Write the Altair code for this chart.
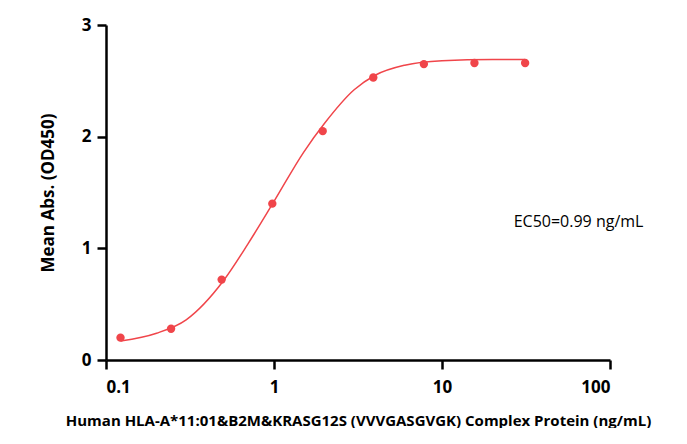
import altair as alt
import pandas as pd

# measured points
conc = [0.122, 0.244, 0.488, 0.977, 1.95, 3.9, 7.8, 15.6, 31.25]
absorb = [0.20, 0.28, 0.72, 1.40, 2.05, 2.53, 2.65, 2.66, 2.66]

# fitted curve
curve_x = [0.122, 0.2, 0.3, 0.5, 0.7, 1.0, 1.5, 2.0, 3.0, 4.0, 6.0, 10.0, 20.0, 31.25]
curve_y = [0.17, 0.24, 0.36, 0.71, 1.04, 1.42, 1.86, 2.12, 2.42, 2.55, 2.64, 2.68, 2.69, 2.69]

pts = pd.DataFrame({"x": conc, "y": absorb})
fit = pd.DataFrame({"x": curve_x, "y": curve_y})
note = pd.DataFrame({"x": [65], "y": [1.24], "t": ["EC50=0.99 ng/mL"]})

red = "#f0454a"
xs = alt.Scale(type="log", domain=[0.1, 100])
ys = alt.Scale(domain=[0, 3])

xax = alt.Axis(values=[0.1, 1, 10, 100], format="~g", grid=False, domainWidth=2.5,
               tickWidth=2.5, tickSize=9, labelFontSize=17, labelFontWeight="bold",
               labelPadding=10, titleFontSize=15, titleFontWeight="bold", titlePadding=18,
               domainColor="black", tickColor="black", labelColor="black", titleColor="black")
yax = alt.Axis(values=[0, 1, 2, 3], format="d", grid=False, domainWidth=2.5, tickWidth=2.5,
               tickSize=9, labelFontSize=17, labelFontWeight="bold", labelPadding=6,
               titleFontSize=17, titleFontWeight="bold", titlePadding=24,
               domainColor="black", tickColor="black", labelColor="black", titleColor="black")

xtitle = "Human HLA-A*11:01&B2M&KRASG12S (VVVGASGVGK) Complex Protein (ng/mL)"

line = alt.Chart(fit).mark_line(color=red, strokeWidth=1.5, interpolate="monotone").encode(
    x=alt.X("x:Q", scale=xs, axis=xax, title=xtitle),
    y=alt.Y("y:Q", scale=ys, axis=yax, title="Mean Abs. (OD450)"),
)
dots = alt.Chart(pts).mark_circle(color=red, size=70, opacity=1).encode(
    x=alt.X("x:Q", scale=xs), y=alt.Y("y:Q", scale=ys)
)
txt = alt.Chart(note).mark_text(fontSize=16, color="black", clip=False).encode(
    x=alt.X("x:Q", scale=xs), y=alt.Y("y:Q", scale=ys), text="t:N"
)

chart = (line + dots + txt).properties(
    width=504, height=335,
    autosize=alt.AutoSizeParams(type="none"),
    padding={"left": 98, "top": 17, "right": 65, "bottom": 68},
).configure(font="Open Sans").configure_view(stroke=None).configure_axis(grid=False)

chart.save("out.html", embed_options={"renderer": "svg", "actions": False})
